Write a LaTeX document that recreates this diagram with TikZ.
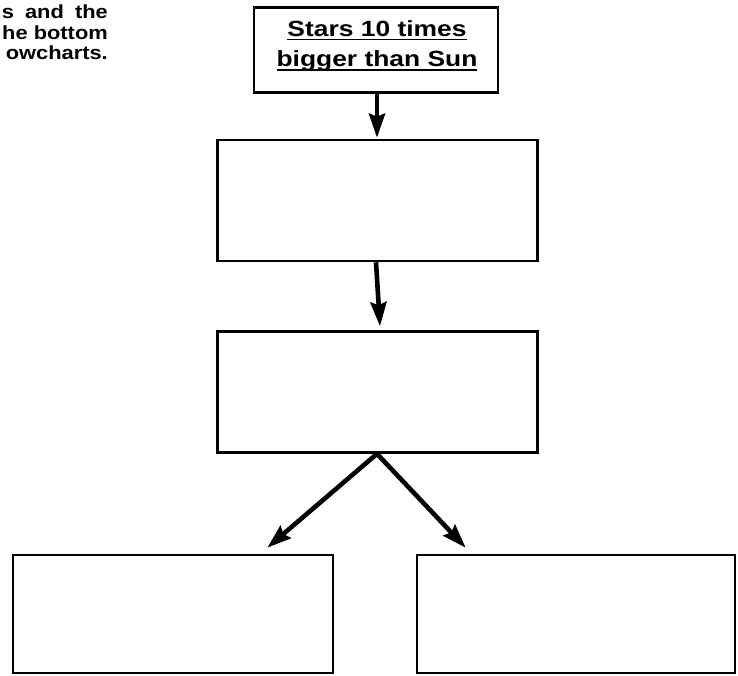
\documentclass[tikz,border=0pt]{standalone}
\usepackage{fontspec}
\setmainfont{Liberation Sans}
\newfontfamily\widesans[FakeStretch=1.2]{Liberation Sans}
\newfontfamily\notesans[FakeStretch=1.15]{Liberation Sans}
\usetikzlibrary{arrows.meta}
\newcommand\myul[1]{\setbox0\hbox{#1}\rlap{\rule[-4pt]{\wd0}{1.8pt}}\box0}
\tikzset{
  box/.style={draw=black, line width=2.6pt, minimum width=320pt, minimum height=121pt, inner sep=0pt},
  arr/.style={line width=4.6pt, -{Stealth[length=24pt,width=16pt,inset=3pt]}},
  bigtxt/.style={font=\widesans\bfseries\fontsize{22}{30.5}\selectfont, align=center, inner sep=0pt},
  notetxt/.style={font=\notesans\bfseries\fontsize{19}{20.5}\selectfont, align=right, inner sep=0pt}
}
\begin{document}
\begin{tikzpicture}[x=1pt,y=-1pt]
\useasboundingbox (0,0) rectangle (738,675);
\node[notetxt, anchor=north east] (note) at (108,5)
  {s\hspace{5pt} and\hspace{5pt} the\\he bottom\\owcharts.\hspace{5pt}};
\node[box, minimum width=244pt, minimum height=85pt] (b1) at (376,50) {};
\node[bigtxt] (t1) at (377,46) {\myul{Stars 10 times}\\\myul{bigger than Sun}};
\node[box] (b2) at (377.5,200.5) {};
\node[box] (b3) at (377.5,392) {};
\node[box, minimum height=118pt] (b4) at (173,614) {};
\node[box, minimum width=318pt, minimum height=118pt] (b5) at (576,614) {};
\draw[arr] ([xshift=1pt]b1.south) -- ([xshift=-0.5pt,yshift=1pt]b2.north);
\draw[arr] ([xshift=-1.5pt]b2.south) -- ([xshift=2.5pt,yshift=4pt]b3.north);
\draw[arr] ([xshift=-0.5pt]b3.south) -- ([xshift=-67pt,yshift=6pt]b4.north east);
\draw[arr] ([xshift=-0.5pt]b3.south) -- ([xshift=50pt,yshift=6pt]b5.north west);
\end{tikzpicture}
\end{document}
